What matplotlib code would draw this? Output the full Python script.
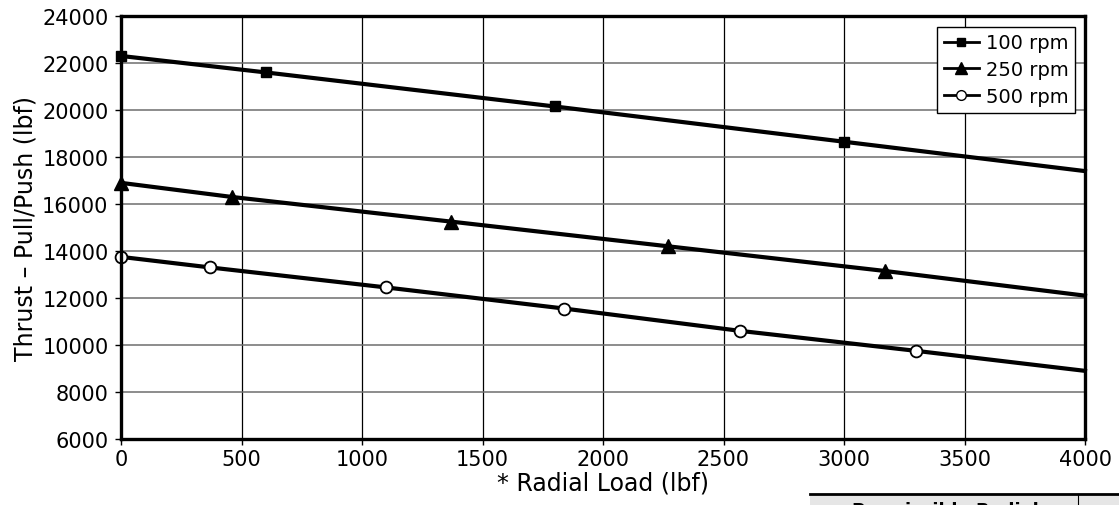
import matplotlib
matplotlib.use("Agg")
import matplotlib.pyplot as plt
from matplotlib.patches import Rectangle
from matplotlib.lines import Line2D

# --- data (last point of each series = line end, no marker)
x_100 = [0, 600, 1800, 3000, 4000]
y_100 = [22300, 21600, 20150, 18650, 17400]

x_250 = [0, 460, 1370, 2270, 3170, 4000]
y_250 = [16900, 16300, 15250, 14200, 13150, 12100]

x_500 = [0, 370, 1100, 1840, 2570, 3300, 4000]
y_500 = [13750, 13300, 12450, 11550, 10600, 9750, 8900]

labels = ["100 rpm", "250 rpm", "500 rpm"]
x_ticks = [0, 500, 1000, 1500, 2000, 2500, 3000, 3500, 4000]
y_ticks = [6000, 8000, 10000, 12000, 14000, 16000, 18000, 20000, 22000, 24000]

W, H = 1119, 506
fig = plt.figure(figsize=(W / 100, H / 100), dpi=100)
ax = fig.add_axes([121 / W, 1 - 440 / H, (1085 - 121) / W, (440 - 17) / H])

fnt = "DejaVu Sans"

series = [
    (x_100, y_100, dict(marker="s", ms=7.5, mfc="black")),
    (x_250, y_250, dict(marker="^", ms=10.5, mfc="black")),
    (x_500, y_500, dict(marker="o", ms=8.5, mfc="white", mew=1.3)),
]
for (xs, ys, mk), lab in zip(series, labels):
    ax.plot(xs, ys, color="black", lw=3, mec="black",
            markevery=list(range(len(xs) - 1)), label=lab, zorder=3,
            clip_on=False, **mk)

ax.set_xlim(0, 4000)
ax.set_ylim(6000, 24000)
ax.set_xticks(x_ticks)
ax.set_yticks(y_ticks)
ax.set_xticklabels([str(v) for v in x_ticks], fontfamily=fnt, fontsize=15)
ax.set_yticklabels([str(v) for v in y_ticks], fontfamily=fnt, fontsize=15)
ax.tick_params(direction="out", length=4, width=1, color="black")
ax.tick_params(axis="y", pad=5)
ax.tick_params(axis="x", pad=3)

ax.yaxis.grid(True, color="#6e6e6e", lw=1.1)
ax.xaxis.grid(True, color="black", lw=0.9)
ax.set_axisbelow(True)
for sp in ax.spines.values():
    sp.set_linewidth(2.4)
    sp.set_zorder(4)

ax.set_xlabel("* Radial Load (lbf)", fontfamily=fnt, fontsize=17, labelpad=1)
ax.set_ylabel("Thrust \u2013 Pull/Push (lbf)", fontfamily=fnt, fontsize=17, labelpad=3)

# legend with line+marker handles, boxed
handles = [
    Line2D([], [], color="black", lw=2, marker="s", ms=6, mfc="black", mec="black"),
    Line2D([], [], color="black", lw=2, marker="^", ms=8, mfc="black", mec="black"),
    Line2D([], [], color="black", lw=2, marker="o", ms=7, mfc="white", mec="black"),
]
leg = ax.legend(handles, labels, loc="upper right", bbox_to_anchor=(0.99, 0.975),
                frameon=True, fancybox=False, edgecolor="black", framealpha=1,
                prop={"family": fnt, "size": 14}, handlelength=1.8,
                handletextpad=0.35, borderpad=0.35, labelspacing=0.4,
                borderaxespad=0)
leg.get_frame().set_linewidth(1.0)
leg.set_zorder(5)

# cut-off table at bottom right
fig.patches.append(Rectangle((810 / W, 0), (W - 810) / W, (H - 496) / H,
                             transform=fig.transFigure, facecolor="#e6e6e6",
                             edgecolor="none"))
fig.lines.append(Line2D([810 / W, 1], [1 - 495 / H, 1 - 495 / H],
                        transform=fig.transFigure, color="black", lw=2))
fig.lines.append(Line2D([1078 / W, 1078 / W], [0, 1 - 495 / H],
                        transform=fig.transFigure, color="black", lw=0.8))
fig.text(945 / W, 1 - 502 / H, "Permissible Radial", ha="center", va="top",
         fontfamily=fnt, fontsize=13, fontweight="bold")

fig.savefig("out.png", dpi=100)
